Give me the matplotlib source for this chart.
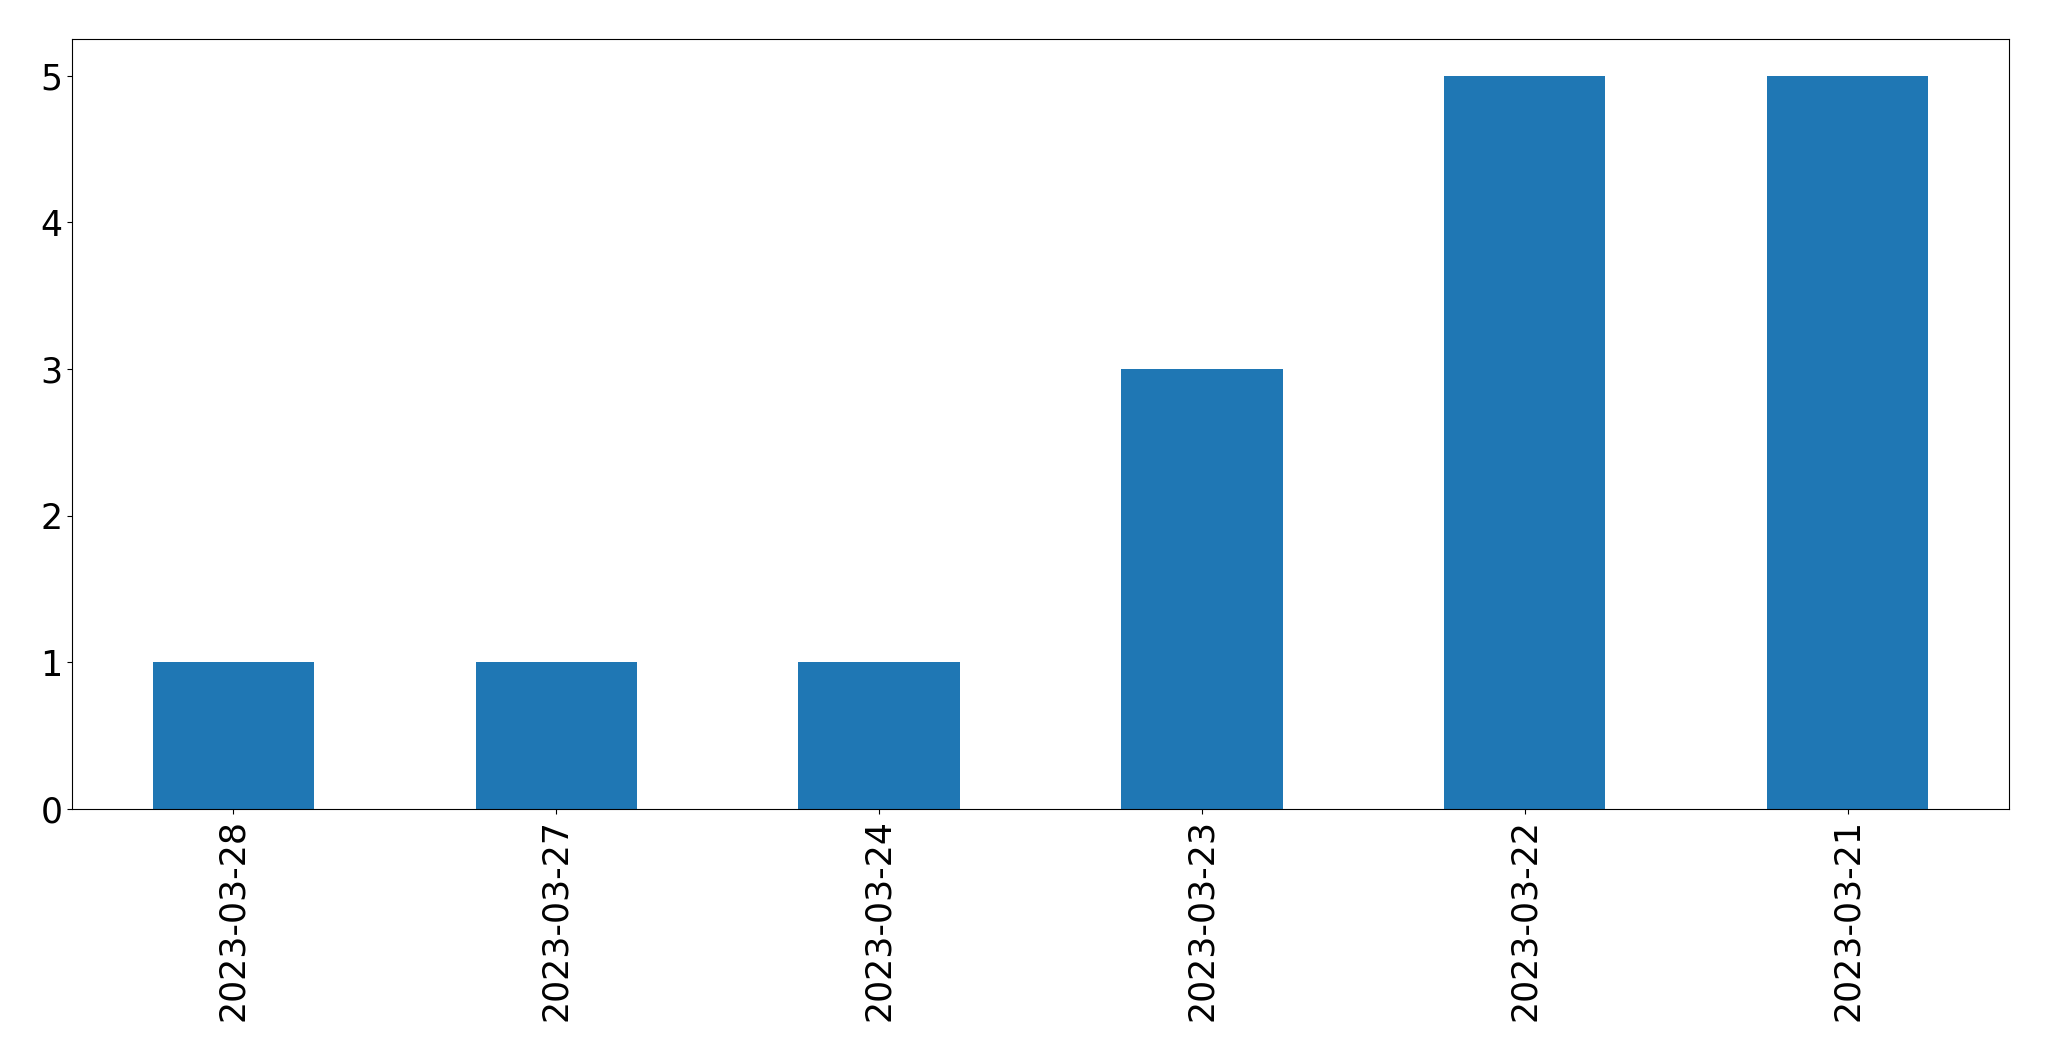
import matplotlib
matplotlib.use("Agg")
import matplotlib.pyplot as plt
import pandas as pd

dates = ["2023-03-28", "2023-03-27", "2023-03-24", "2023-03-23", "2023-03-22", "2023-03-21"]
counts = [1, 1, 1, 3, 5, 5]

s = pd.Series(counts, index=dates)

fig, ax = plt.subplots(figsize=(20.49, 10.61), dpi=100)
s.plot(kind="bar", ax=ax, color="#1f77b4")
ax.tick_params(axis="both", labelsize=25)
plt.subplots_adjust(left=72 / 2049, right=2009 / 2049, top=1 - 39 / 1061, bottom=1 - 809 / 1061)
fig.savefig("out.png", dpi=100)
